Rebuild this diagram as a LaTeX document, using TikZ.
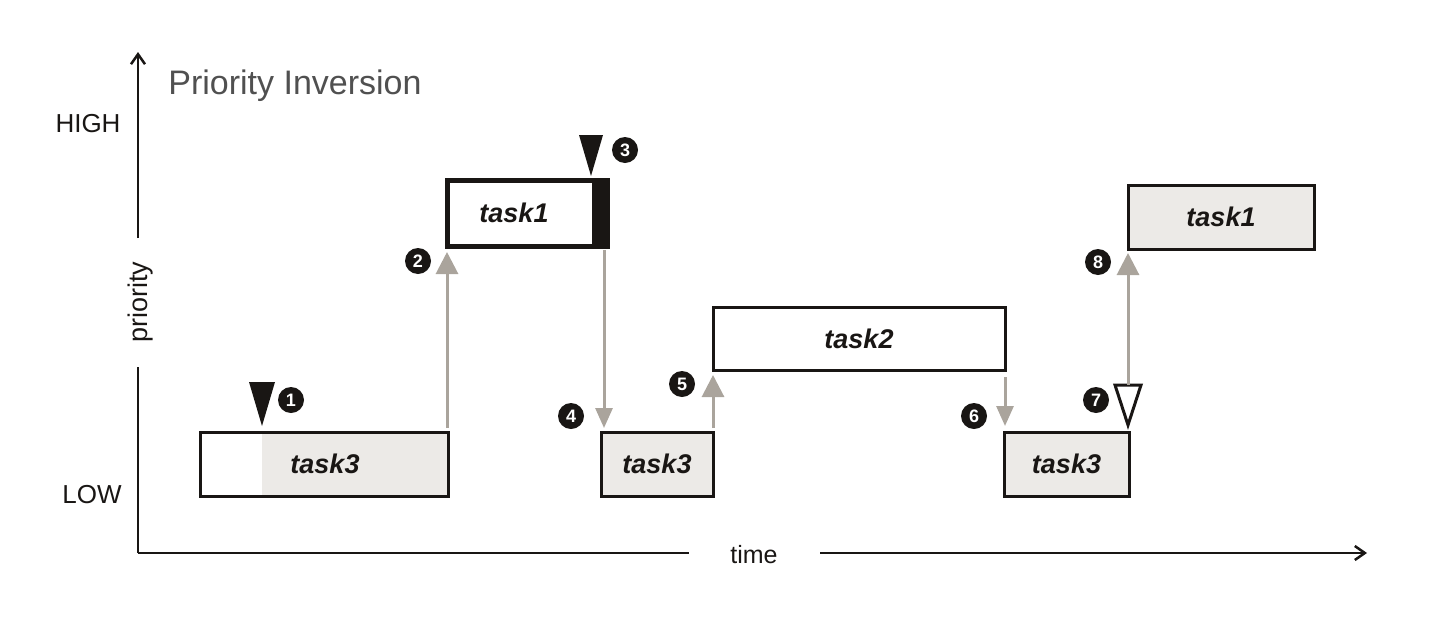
\documentclass[tikz,border=0pt]{standalone}
\usepackage{fontspec}
\setmainfont{Liberation Sans}
\usetikzlibrary{arrows.meta}
\definecolor{arrgray}{RGB}{170,164,156}
\definecolor{boxgray}{RGB}{236,234,231}
\definecolor{titlegray}{RGB}{80,80,80}
\definecolor{ink}{RGB}{25,22,20}
\begin{document}
\begin{tikzpicture}[x=0.5pt,y=-0.5pt,
  taskbox/.style={draw=ink, line width=1.5pt, inner sep=0pt, outer sep=0pt, font=\fontsize{13.5}{16}\selectfont\bfseries\itshape, text=ink},
  garrow/.style={draw=arrgray, line width=1.5pt, -{Triangle[length=11pt,width=11pt]}, color=arrgray},
  gsmall/.style={draw=arrgray, line width=1.5pt, -{Triangle[length=10pt,width=8.5pt]}, color=arrgray},
  numdot/.style={circle, fill=ink, minimum size=13pt, inner sep=0pt, text=white, font=\fontsize{9}{10}\selectfont\bfseries},
  axis/.style={draw=ink, line width=1.25pt},
  axlabel/.style={text=ink, font=\fontsize{13}{15}\selectfont, inner sep=0pt}
]
\useasboundingbox (0,0) rectangle (1440,643);

% axes
\coordinate (O) at (138,553);
\coordinate (ytop) at (138,52);
\coordinate (xend) at (1367,553);
\node[axlabel, rotate=90, font=\fontsize{13.5}{15}\selectfont] (plab) at (141,302) {priority};
\node[axlabel, font=\fontsize{12.5}{15}\selectfont] (tlab) at (754,555) {time};
\draw[axis] (O) -- (O |- 0,367);
\draw[axis, -{Straight Barb[length=5pt,width=7pt]}] (O |- 0,238) -- (ytop);
\draw[axis] (O) -- (689,553);
\draw[axis, -{Straight Barb[length=5pt,width=7pt]}] (820,553) -- (xend);

\node[axlabel] (high) at (88,124) {HIGH};
\node[axlabel] (low) at (92,495) {LOW};
\node[anchor=west, inner sep=0pt, text=titlegray, font=\fontsize{17}{20}\selectfont] (title) at (168,86) {Priority Inversion};

% task boxes
\node[taskbox, draw=none, minimum width=124pt, minimum height=32pt] (t3a) at (324,464) {};
\fill[boxgray] ([xshift=31pt]t3a.north west) rectangle (t3a.south east);
\draw[ink, line width=1.5pt] (t3a.north west) rectangle (t3a.south east);
\node[taskbox, draw=none] (t3atext) at (325,464) {task3};

\node[taskbox, line width=2.5pt, minimum width=80pt, minimum height=33pt] (t1a) at (527,213) {};
\fill[ink] ([xshift=-7.5pt]t1a.north east) rectangle (t1a.south east);
\node[taskbox, draw=none] (t1atext) at (514,213) {task1};

\node[taskbox, fill=boxgray, minimum width=56pt, minimum height=32pt] (t3b) at (657,464) {task3};
\node[taskbox, fill=white, minimum width=146pt, minimum height=31.5pt] (t2) at (859,338.5) {task2};
\node[taskbox, fill=boxgray, minimum width=62.5pt, minimum height=32pt] (t3c) at (1066.5,464) {task3};
\node[taskbox, fill=boxgray, minimum width=93pt, minimum height=32pt] (t1b) at (1221,217) {task1};

% markers
\coordinate (m1) at (262,426);
\fill[ink] (m1) -- ++(-13,-44) -- ++(26,0) -- cycle;
\coordinate (m3) at (591,176);
\fill[ink] (m3) -- ++(-12,-41) -- ++(24,0) -- cycle;
\coordinate (m7) at (1128,425);
\coordinate (m7top) at (1128,385);
\draw[ink, fill=white, line width=1.5pt, line join=miter] (m7) -- ++(-13,-40) -- ++(26,0) -- cycle;

% arrows
\draw[garrow] ([xshift=-0.5pt,yshift=2pt]t3a.north east) -- ([xshift=-0.5pt,yshift=-3pt]t3a.north east |- t1a.south);
\draw[gsmall] ([xshift=-1.5pt,yshift=-2pt]t1a.south east) -- ([xshift=-1.5pt,yshift=2pt]t1a.south east |- t3b.north);
\draw[garrow] ([yshift=2pt]t3b.north east) -- ([yshift=-2.5pt]t3b.north east |- t2.south);
\draw[gsmall] ([yshift=-3.5pt]t2.south east) -- ([yshift=3pt]t2.south east |- t3c.north);
\draw[garrow] (m7top) -- ([yshift=-2pt]m7top |- t1b.south);

% numbers
\node[numdot] (n1) at (291,400) {1};
\node[numdot] (n2) at (418,261) {2};
\node[numdot] (n3) at (625,150) {3};
\node[numdot] (n4) at (571,416) {4};
\node[numdot] (n5) at (682,384) {5};
\node[numdot] (n6) at (974,416) {6};
\node[numdot] (n7) at (1096,400) {7};
\node[numdot] (n8) at (1098,262) {8};
\end{tikzpicture}
\end{document}
